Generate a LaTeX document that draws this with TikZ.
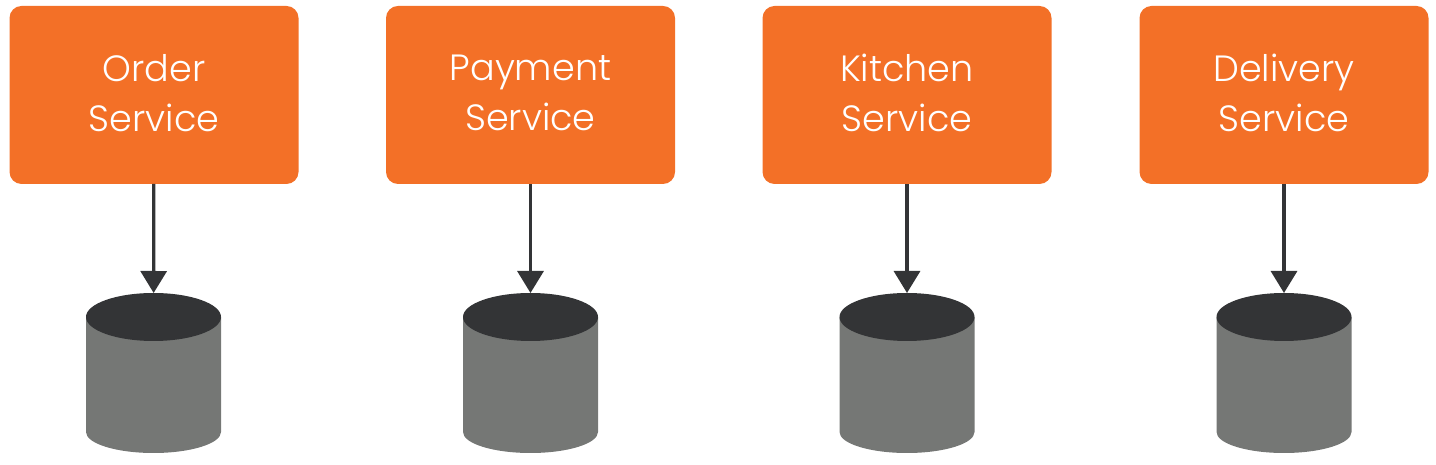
\documentclass[tikz,border=0pt]{standalone}
\usepackage{fontspec}
\setmainfont{Poppins Light}
\usetikzlibrary{arrows.meta}
\definecolor{serviceorange}{HTML}{F37027}
\definecolor{darkgrey}{HTML}{333436}
\definecolor{dbgrey}{HTML}{757775}
\tikzset{
	service/.style={draw=none, fill=serviceorange, rounded corners=0.24cm, minimum width=5.78cm, minimum height=3.56cm, inner sep=0, outer sep=0, align=center, text=white, text depth=0.08cm, font=\fontsize{20.8}{28.45}\selectfont},
	database/.style={minimum width=2.7cm, minimum height=3.2cm, inner sep=0, outer sep=0},
	link/.style={draw=darkgrey, line width=0.065cm, -{Triangle[length=0.44cm, width=0.52cm]}}
}
\def\drum(#1)(#2){
	\node[database] (#2) at (#1) {};
	\fill[dbgrey] (#2.north west) ++(0, -0.48) -- ++(0, -2.3) arc (180:360:1.35 and 0.42) -- ++(0, 2.3) -- cycle;
	\fill[darkgrey] (#2.north) ++(0, -0.48) ellipse (1.35 and 0.48);
}

\begin{document}
\begin{tikzpicture}
	\useasboundingbox (0, 0) rectangle (28.72, 9.3);
	
	%%%%% SERVICES %%%%%
	\node[service] (order) at (3.08, 7.4) {Order\\Service};
	\node[service] (payment) at (10.61, 7.4) {Payment\\Service};
	\node[service] (kitchen) at (18.14, 7.4) {Kitchen\\Service};
	\node[service] (delivery) at (25.68, 7.4) {Delivery\\Service};
	
	%%%%% DATABASES %%%%%
	\drum(3.07, 1.84)(orderdb);
	\drum(10.61, 1.84)(paymentdb);
	\drum(18.14, 1.84)(kitchendb);
	\drum(25.68, 1.84)(deliverydb);
	
	%%%%% LINKS %%%%%
	\draw[link] (order) -- (orderdb);
	\draw[link] (payment) -- (paymentdb);
	\draw[link] (kitchen) -- (kitchendb);
	\draw[link] (delivery) -- (deliverydb);
\end{tikzpicture}
\end{document}
